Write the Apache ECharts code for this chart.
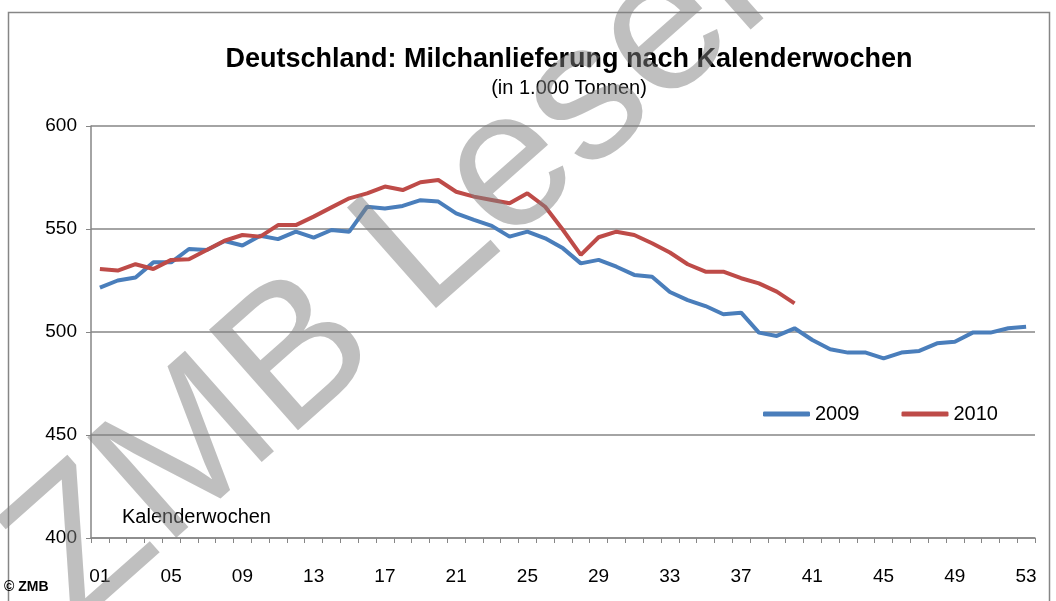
<!DOCTYPE html>
<html>
<head>
<meta charset="utf-8">
<script src="https://cdn.jsdelivr.net/npm/echarts@6/dist/echarts.min.js"></script>
<style>
  html, body { margin: 0; padding: 0; background: #fff; }
  #main { width: 1056px; height: 601px; }
</style>
</head>
<body>
<div id="main"></div>
<script>
// Kalenderwochen
var weeks = ['01','02','03','04','05','06','07','08','09','10','11','12','13','14','15','16','17','18',
             '19','20','21','22','23','24','25','26','27','28','29','30','31','32','33','34','35','36',
             '37','38','39','40','41','42','43','44','45','46','47','48','49','50','51','52','53'];

// Milchanlieferung in 1.000 Tonnen
var data2009 = [521.5, 525, 526.5, 533.8, 533.8, 540.3, 539.8, 544.2, 542, 546.7,
                545.1, 548.7, 545.8, 549.5, 548.7, 560.8, 560, 561.2, 564, 563.3,
                557.6, 554.4, 551.5, 546.3, 548.7, 545.5, 540.6, 533.3, 535, 531.7,
                527.7, 526.8, 519.4, 515.5, 512.6, 508.6, 509.4, 499.7, 498.1, 501.8,
                496.1, 491.6, 490, 490, 487.2, 490, 490.8, 494.5, 495.3, 499.7,
                499.7, 501.8, 502.6];
var data2010 = [530.6, 529.8, 532.9, 530.6, 535, 535.3, 539.8, 544.3, 547.1, 546.3,
                551.9, 551.9, 556, 560.5, 564.9, 567.3, 570.6, 568.9, 572.7, 573.8,
                568.1, 565.7, 564.1, 562.5, 567.3, 560.8, 549.5, 537.4, 546, 548.7,
                547.1, 543.1, 538.6, 532.9, 529.3, 529.3, 526.1, 523.6, 519.6, 513.9];

var font = 'Liberation Sans, Arial, sans-serif';
var myChart = echarts.init(document.getElementById('main'));

var option = {
    animation: false,
    textStyle: { fontFamily: font },
    title: {
        text: 'Deutschland: Milchanlieferung nach Kalenderwochen',
        subtext: '(in 1.000 Tonnen)',
        left: 564,
        textAlign: 'center',
        top: 41,
        itemGap: 5,
        textStyle: { fontFamily: font, fontSize: 27, fontWeight: 'bold', color: '#000' },
        subtextStyle: { fontFamily: font, fontSize: 20, color: '#000' }
    },
    legend: {
        data: ['2009', '2010'],
        left: 758,
        top: 399,
        itemWidth: 47,
        itemHeight: 5,
        itemGap: 42,
        icon: 'roundRect',
        textStyle: { fontFamily: font, fontSize: 20, color: '#000' }
    },
    grid: { left: 91, right: 21, top: 126, bottom: 63 },
    xAxis: {
        type: 'category',
        data: weeks,
        boundaryGap: true,
        axisLine: { lineStyle: { color: '#868686', width: 1.5 } },
        axisTick: { show: true, interval: 0, length: 5, lineStyle: { color: '#868686' } },
        axisLabel: { interval: 3, margin: 29, fontSize: 19, color: '#000', fontFamily: font }
    },
    yAxis: {
        type: 'value',
        min: 400,
        max: 600,
        interval: 50,
        axisLine: { show: true, lineStyle: { color: '#868686', width: 1.5 } },
        axisTick: { show: true, length: 5, lineStyle: { color: '#868686' } },
        axisLabel: { margin: 14, fontSize: 19, color: '#000', fontFamily: font },
        splitLine: { lineStyle: { color: '#868686', width: 1.5 } }
    },
    series: [
        {
            name: '2009',
            type: 'line',
            data: data2009,
            symbol: 'none',
            lineStyle: { color: '#4a7ebb', width: 4 },
            itemStyle: { color: '#4a7ebb' }
        },
        {
            name: '2010',
            type: 'line',
            data: data2010,
            symbol: 'none',
            lineStyle: { color: '#be4b48', width: 4 },
            itemStyle: { color: '#be4b48' }
        }
    ],
    graphic: [
        {
            type: 'rect',
            shape: { x: 8.5, y: 12.5, width: 1041, height: 620 },
            style: { fill: 'none', stroke: '#868686', lineWidth: 1.5 },
            z: -1
        },
        {
            type: 'text',
            x: 122, y: 517,
            style: { text: 'Kalenderwochen', font: '20px ' + font, fill: '#000', verticalAlign: 'middle' }
        },
        {
            type: 'text',
            x: 4, y: 587,
            style: { text: '© ZMB', font: 'bold 14px ' + font, fill: '#000', verticalAlign: 'middle' }
        },
        {
            // Wasserzeichen
            type: 'text',
            x: 104, y: 660,
            rotation: 41.5 * Math.PI / 180,
            z: 100,
            style: {
                text: 'ZMB Leser',
                font: '195px ' + font,
                fill: 'rgba(128,128,128,0.5)',
                align: 'left',
                verticalAlign: 'bottom'
            }
        }
    ]
};

myChart.setOption(option);
</script>
</body>
</html>
